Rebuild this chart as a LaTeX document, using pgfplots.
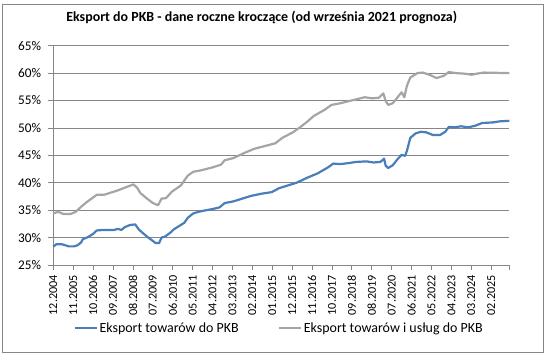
\documentclass[border=0pt]{standalone}
\usepackage{pgfplots}
\pgfplotsset{compat=1.18}
\usepackage{fontspec}
\setmainfont{Carlito}
\definecolor{blueS}{HTML}{4A7EBB}
\definecolor{grayS}{HTML}{A5A5A5}
\definecolor{gridC}{HTML}{868686}
\begin{document}
\begin{tikzpicture}
\path[use as bounding box] (0bp,0bp) rectangle (547bp,358bp);
\draw[gridC, line width=0.8bp] (2.5bp,5.5bp) rectangle (543bp,354bp);
\begin{axis}[
  at={(53.3bp,93bp)}, anchor=south west,
  scale only axis, width=456bp, height=219.3bp,
  xmin=0, xmax=252, ymin=25, ymax=65,
  axis x line=bottom, axis y line=left,
  axis line style={gridC, line width=0.8bp, -},
  tick style={gridC, line width=0.8bp},
  tick align=outside, major tick length=5bp,
  ytick={25,30,35,40,45,50,55,60,65},
  yticklabels={25\%,30\%,35\%,40\%,45\%,50\%,55\%,60\%,65\%},
  ymajorgrids, grid style={gridC, line width=0.8bp},
  xtick={0,11,22,33,44,55,66,77,88,99,110,121,132,143,154,165,176,187,198,209,220,231,242},
  xticklabels={12.2004,11.2005,10.2006,09.2007,08.2008,07.2009,06.2010,05.2011,04.2012,03.2013,02.2014,01.2015,12.2015,11.2016,10.2017,09.2018,08.2019,07.2020,06.2021,05.2022,04.2023,03.2024,02.2025},
  extra x ticks={252}, extra x tick labels={},
  xticklabel style={rotate=90, anchor=east, inner sep=0pt, font=\fontsize{12.2}{14}\selectfont},
  yticklabel style={anchor=east, inner sep=0pt, font=\fontsize{13.3}{15}\selectfont},
  xticklabel shift=5bp, yticklabel shift=7bp,
  title={\textbf{Eksport do PKB - dane roczne kroczące (od września 2021 prognoza)}},
  title style={at={(axis description cs:0.457,1)}, anchor=center, yshift=22.7bp, font=\fontsize{14}{16}\selectfont, inner sep=0pt},
  legend columns=2,
  legend style={at={(axis description cs:0.495,-0.287)}, anchor=center, draw=none, fill=none,
    font=\fontsize{14}{16}\selectfont, inner sep=0pt,
    nodes={inner sep=1.5bp},
    /tikz/every even column/.append style={column sep=38bp}},
  legend image code/.code={\draw[#1] (0bp,0bp) -- (22bp,0bp);},
  clip=false,
]
\addplot[blueS, line width=2.2bp, line join=round] coordinates {
(0,28.35) (1.7,28.8) (4.6,28.8) (6.6,28.6) (8.5,28.4) (11.4,28.4) (13.4,28.6) (15.3,29.1)
(16.3,29.7) (19.2,30.1) (22.1,30.7) (24.0,31.3) (27.9,31.4) (33.7,31.4) (35.6,31.6) (37.6,31.4)
(39.5,31.9) (42.4,32.3) (45.3,32.4) (47.2,31.5) (49.2,30.9) (52.1,30.1) (55.0,29.4) (56.5,29.0)
(58.5,29.0) (59.8,30.0) (61.8,30.2) (64.7,30.9) (66.6,31.5) (69.5,32.1) (72.4,32.7) (74.3,33.6)
(77.3,34.4) (80.2,34.7) (83.1,34.9) (87.9,35.2) (91.8,35.5) (94.7,36.3) (99.5,36.6) (103.4,37.0)
(109.2,37.6) (115.0,38.0) (120.8,38.3) (124.7,39.0) (130.5,39.6) (134.4,40.0) (140.2,40.9) (146.0,41.7)
(151.8,42.8) (154.7,43.5) (158.6,43.4) (163.4,43.6) (167.3,43.8) (173.1,43.9) (177.0,43.7) (180.8,43.8)
(182.8,44.4) (183.7,43.1) (185.1,42.7) (187.6,43.2) (190.5,44.4) (192.5,45.1) (194.4,44.9) (195.4,45.8)
(197.3,48.2) (200.2,49.0) (203.1,49.3) (206.0,49.2) (209.9,48.7) (213.7,48.7) (216.6,49.3) (218.6,50.2)
(221.5,50.1) (225.4,50.3) (229.2,50.1) (233.1,50.4) (237.0,50.9) (242.8,51.0) (246.7,51.2) (252,51.3)
};
\addlegendentry{Eksport towarów do PKB}
\addplot[grayS, line width=2.2bp, line join=round] coordinates {
(0,34.4) (2.7,34.7) (5.6,34.3) (9.5,34.3) (12.4,34.7) (15.3,35.6) (18.2,36.4) (21.1,37.1)
(24.0,37.8) (27.9,37.8) (31.8,38.2) (35.6,38.6) (39.5,39.1) (44.3,39.7) (46.3,39.1) (48.2,38.1)
(51.1,37.3) (55.0,36.3) (57.9,35.9) (59.8,37.1) (62.3,37.2) (65.6,38.4) (70.5,39.5) (74.3,41.3)
(77.3,42.0) (82.1,42.3) (87.9,42.8) (92.7,43.3) (94.7,44.1) (99.5,44.5) (105.3,45.4) (111.1,46.2)
(116.9,46.7) (122.7,47.2) (126.6,48.2) (132.4,49.2) (136.3,50.1) (140.2,51.1) (144.0,52.2) (149.9,53.3)
(153.7,54.2) (158.6,54.5) (163.4,54.9) (167.3,55.2) (172.1,55.6) (176.0,55.4) (179.9,55.5) (182.4,56.3)
(183.7,54.9) (185.1,54.2) (187.6,54.5) (190.5,55.7) (192.5,56.5) (194.0,55.6) (195.4,57.7) (197.3,59.2)
(201.2,60.0) (204.1,60.1) (207.9,59.7) (211.8,59.1) (215.7,59.5) (218.6,60.2) (222.5,60.0) (227.3,59.9)
(231.2,59.7) (234.1,59.9) (237.9,60.1) (252,60.0)
};
\addlegendentry{Eksport towarów i usług do PKB}
\end{axis}
\end{tikzpicture}
\end{document}
